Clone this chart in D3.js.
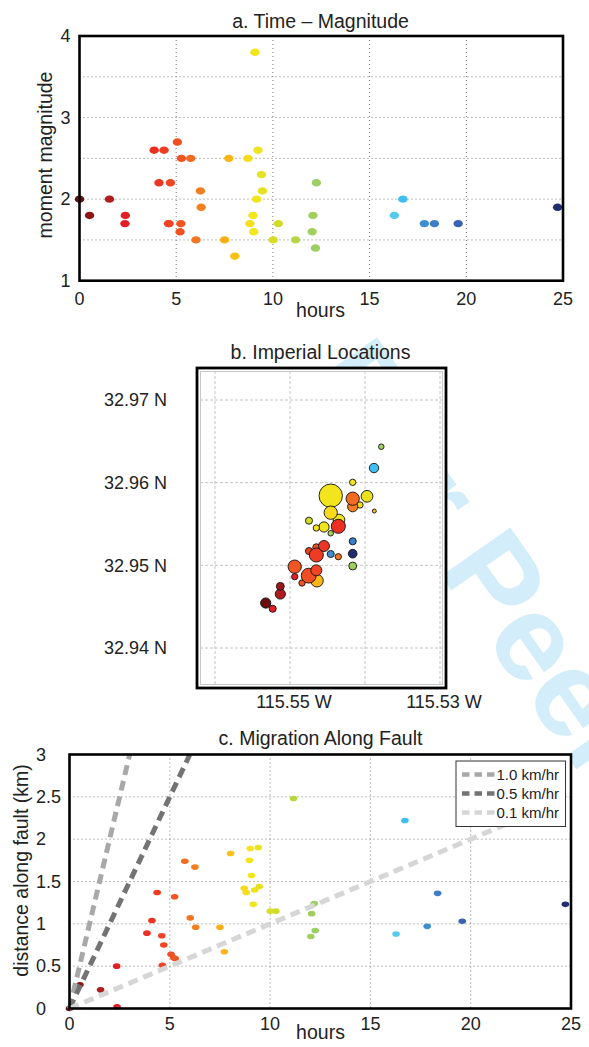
<!DOCTYPE html>
<html>
<head>
<meta charset="utf-8">
<script src="https://cdn.jsdelivr.net/npm/d3@7"></script>
<style>
  body { margin: 0; background: #fff; }
  svg { display: block; font-family: "Liberation Sans", Arial, Helvetica, sans-serif; }
</style>
</head>
<body>
<div id="chart"></div>
<script>
// events, one entry each (panels a and c)
var hours = [0, 0.52, 1.55, 2.35, 2.37, 3.86, 4.11, 4.37, 4.6, 4.63, 4.7, 5.06, 5.2, 5.24, 5.27,
  5.75, 6.02, 6.25, 6.29, 7.5, 7.72, 8.03, 8.71, 8.81, 8.97, 9.01, 9.07, 9.16, 9.23, 9.41, 9.46,
  10.01, 10.28, 11.17, 12.03, 12.07, 12.2, 12.25, 16.28, 16.72, 17.83, 18.35, 19.58, 24.72];
var magnitude = [2.0, 1.8, 2.0, 1.7, 1.8, 2.6, 2.2, 2.6, 1.7, 1.7, 2.2, 2.7, 1.6, 1.7, 2.5,
  2.5, 1.5, 2.1, 1.9, 1.5, 2.5, 1.3, 2.5, 1.7, 1.8, 1.6, 3.8, 2.0, 2.6, 2.3, 2.1,
  1.5, 1.7, 1.5, 1.6, 1.8, 1.4, 2.2, 1.8, 2.0, 1.7, 1.7, 1.7, 1.9];
var distance = [0.0, 0.28, 0.22, 0.5, 0.02, 0.89, 1.04, 1.37, 0.86, 0.51, 0.75, 0.64, 0.60, 1.32, 0.59,
  1.74, 1.07, 1.67, 0.96, 0.96, 0.67, 1.83, 1.42, 1.37, 1.75, 1.89, 1.57, 1.23, 1.40, 1.90, 1.44,
  1.15, 1.15, 2.48, 0.85, 1.12, 1.24, 0.92, 0.88, 2.22, 0.97, 1.36, 1.03, 1.23];

// located events (panel b)
var locLon = [-115.53783, -115.53880, -115.54164, -115.54457, -115.54164, -115.53973, -115.54164, -115.54067,
  -115.53876, -115.54457, -115.54347, -115.54356, -115.54747, -115.54649, -115.54547, -115.54457,
  -115.54164, -115.54164, -115.54164, -115.54457, -115.54356, -115.54547, -115.54747, -115.54649,
  -115.54649, -115.54937, -115.54937, -115.54751, -115.54649, -115.54640, -115.54840, -115.55129,
  -115.55129, -115.55324, -115.55231];
var locLat = [32.96435, 32.96177, 32.96004, 32.95842, 32.95806, 32.95835, 32.95709, 32.95730,
  32.95657, 32.95637, 32.95548, 32.95472, 32.95540, 32.95452, 32.95464, 32.95388,
  32.95291, 32.95141, 32.94992, 32.95137, 32.95104, 32.95234, 32.95173, 32.95218,
  32.95125, 32.94984, 32.94863, 32.94875, 32.94940, 32.94814, 32.94786, 32.94746,
  32.94653, 32.94544, 32.94475];
var locMag = [1.5, 2.0, 1.6, 3.8, 2.5, 2.3, 2.1, 1.6,
  1.3, 2.5, 2.3, 2.6, 1.7, 1.6, 2.1, 1.5,
  1.7, 1.9, 1.8, 1.7, 1.6, 2.2, 1.7, 1.7,
  2.6, 2.5, 1.6, 2.7, 2.2, 2.4, 1.6, 1.8,
  2.1, 2.1, 1.7];
var locHour = [12.2, 16.72, 9.0, 9.07, 5.76, 9.4, 6.24, 8.8,
  8.02, 8.7, 9.22, 3.84, 10.27, 9.01, 9.15, 12.03,
  18.35, 24.73, 12.07, 17.83, 6.0, 4.1, 4.6, 5.23,
  4.36, 5.27, 2.36, 5.06, 4.7, 7.71, 5.21, 1.0,
  1.53, 0, 2.34];

var hourTicks = [0, 5, 10, 15, 20, 25];
var magTicks = [1, 2, 3, 4];
var magGrid = [1.5, 2, 2.5, 3, 3.5];
var distTicks = [0, 0.5, 1, 1.5, 2, 2.5, 3];
var latTicks = [32.94, 32.95, 32.96, 32.97];
var lonGrid = [-115.56, -115.55, -115.54, -115.53];
var lonTicks = [-115.55, -115.53];

var rateValues = [1.0, 0.5, 0.1];
var rateLabels = ["1.0 km/hr", "0.5 km/hr", "0.1 km/hr"];
var rateColors = ["#a8a8a8", "#737373", "#d6d6d6"];

// time colouring, dark red (start) to navy (end)
var color = d3.scaleLinear()
    .domain([0, 0.5, 1.5, 2.3, 4, 5.2, 6.2, 7.7, 9, 10.3, 12.1, 16.3, 16.7, 18, 19.6, 24.7])
    .range(["#6b0d0f", "#8e1416", "#ae1c1e", "#e31e26", "#ec3223", "#f15223", "#f47d20", "#fbb617",
        "#f4e51c", "#cfdc28", "#9fcf5f", "#58c9ef", "#3ec0f1", "#3d86cc", "#3a62b2", "#222d6e"])
    .clamp(true);

var events = hours.map(function (h, i) {
    return { hour: h, mag: magnitude[i], dist: distance[i] };
});
var located = locLon.map(function (lon, i) {
    return { lon: lon, lat: locLat[i], mag: locMag[i], hour: locHour[i] };
});

var svg = d3.select("#chart").append("svg")
    .attr("width", 589)
    .attr("height", 1047);

// journal watermark, sits behind the axes
svg.append("text")
    .attr("transform", "translate(303,379) rotate(55)")
    .attr("font-size", 123)
    .attr("font-weight", "bold")
    .attr("fill", "#d4edfa")
    .text("For Peer Review");

function grid(g, x1, x2, y1, y2, stroke, dash) {
    g.append("line")
        .attr("x1", x1).attr("x2", x2).attr("y1", y1).attr("y2", y2)
        .attr("stroke", stroke)
        .attr("stroke-width", 1)
        .attr("stroke-dasharray", dash);
}

// ---------- a. Time - Magnitude ----------
(function () {
    var x = d3.scaleLinear().domain([0, 25]).range([79.5, 563]);
    var y = d3.scaleLinear().domain([1, 4]).range([280.7, 36]);
    var g = svg.append("g");

    g.append("rect")
        .attr("x", x(0)).attr("y", y(4))
        .attr("width", x(25) - x(0)).attr("height", y(1) - y(4))
        .attr("fill", "#fff");

    hourTicks.slice(1, -1).forEach(function (t) {
        grid(g, x(t), x(t), y(4), y(1), "#7a7a7a", "1,3");
    });
    magGrid.forEach(function (m) {
        grid(g, x(0), x(25), y(m), y(m), "#7a7a7a", "1,3");
    });

    g.selectAll("ellipse")
        .data(events)
        .enter().append("ellipse")
        .attr("cx", function (d) { return x(d.hour); })
        .attr("cy", function (d) { return y(d.mag); })
        .attr("rx", 4.7)
        .attr("ry", 3.7)
        .attr("fill", function (d) { return color(d.hour); });

    g.append("rect")
        .attr("x", x(0)).attr("y", y(4))
        .attr("width", x(25) - x(0)).attr("height", y(1) - y(4))
        .attr("fill", "none").attr("stroke", "#000").attr("stroke-width", 2.6);

    g.selectAll("text.xt")
        .data(hourTicks)
        .enter().append("text")
        .attr("class", "xt")
        .attr("x", function (d) { return x(d); })
        .attr("y", 299).attr("dy", "0.35em")
        .attr("text-anchor", "middle")
        .attr("font-size", 18).attr("fill", "#222")
        .text(function (d) { return d; });

    g.selectAll("text.yt")
        .data(magTicks)
        .enter().append("text")
        .attr("class", "yt")
        .attr("x", 70.5)
        .attr("y", function (d) { return y(d); }).attr("dy", "0.35em")
        .attr("text-anchor", "end")
        .attr("font-size", 18).attr("fill", "#222")
        .text(function (d) { return d; });

    g.append("text")
        .attr("x", 320.5).attr("y", 20.7).attr("dy", "0.35em")
        .attr("text-anchor", "middle").attr("font-size", 19.5).attr("fill", "#222")
        .text("a. Time \u2013 Magnitude");
    g.append("text")
        .attr("x", 320.5).attr("y", 310).attr("dy", "0.35em")
        .attr("text-anchor", "middle").attr("font-size", 19.5).attr("fill", "#222")
        .text("hours");
    g.append("text")
        .attr("transform", "translate(45,155) rotate(-90)")
        .attr("dy", "0.35em")
        .attr("text-anchor", "middle").attr("font-size", 19.5).attr("fill", "#222")
        .text("moment magnitude");
})();

// ---------- b. Imperial Locations ----------
(function () {
    var box = { left: 197, right: 446, top: 368, bottom: 688 };
    var x = d3.scaleLinear().domain([-115.55, -115.53]).range([290, 440]);
    var y = d3.scaleLinear().domain([32.94, 32.97]).range([648, 400]);
    var r = d3.scaleLinear().domain([1.3, 3.8]).range([2, 11.7]);
    var g = svg.append("g");

    g.append("rect")
        .attr("x", box.left).attr("y", box.top)
        .attr("width", box.right - box.left).attr("height", box.bottom - box.top)
        .attr("fill", "#fff");

    lonGrid.forEach(function (t) {
        grid(g, x(t), x(t), box.top + 3, box.bottom - 3, "#c4c4c4", "3,2");
    });
    latTicks.forEach(function (t) {
        grid(g, box.left + 3, box.right - 3, y(t), y(t), "#c4c4c4", "3,2");
    });

    g.append("rect")
        .attr("x", box.left + 3.5).attr("y", box.top + 3.5)
        .attr("width", box.right - box.left - 7).attr("height", box.bottom - box.top - 7)
        .attr("fill", "none").attr("stroke", "#c8c8c8").attr("stroke-width", 1);

    var sorted = located.slice().sort(function (a, b) { return b.hour - a.hour; });
    g.selectAll("circle")
        .data(sorted)
        .enter().append("circle")
        .attr("cx", function (d) { return x(d.lon); })
        .attr("cy", function (d) { return y(d.lat); })
        .attr("r", function (d) { return r(d.mag); })
        .attr("fill", function (d) { return color(d.hour); })
        .attr("stroke", "#111")
        .attr("stroke-width", 0.9);

    g.append("rect")
        .attr("x", box.left).attr("y", box.top)
        .attr("width", box.right - box.left).attr("height", box.bottom - box.top)
        .attr("fill", "none").attr("stroke", "#000").attr("stroke-width", 2.8);

    g.selectAll("text.yt")
        .data(latTicks)
        .enter().append("text")
        .attr("class", "yt")
        .attr("x", 167)
        .attr("y", function (d) { return y(d); }).attr("dy", "0.35em")
        .attr("text-anchor", "end")
        .attr("font-size", 18).attr("fill", "#222")
        .text(function (d) { return d.toFixed(2) + " N"; });

    g.selectAll("text.xt")
        .data(lonTicks)
        .enter().append("text")
        .attr("class", "xt")
        .attr("x", function (d) { return x(d); }).attr("dx", 4)
        .attr("y", 701.7).attr("dy", "0.35em")
        .attr("text-anchor", "middle")
        .attr("font-size", 18).attr("fill", "#222")
        .text(function (d) { return Math.abs(d).toFixed(2) + " W"; });

    g.append("text")
        .attr("x", 320.5).attr("y", 351.7).attr("dy", "0.35em")
        .attr("text-anchor", "middle").attr("font-size", 19.5).attr("fill", "#222")
        .text("b. Imperial Locations");
})();

// ---------- c. Migration Along Fault ----------
(function () {
    var x = d3.scaleLinear().domain([0, 25]).range([69.5, 571]);
    var y = d3.scaleLinear().domain([0, 3]).range([1008.5, 754.5]);
    var g = svg.append("g");

    g.append("rect")
        .attr("x", x(0)).attr("y", y(3))
        .attr("width", x(25) - x(0)).attr("height", y(0) - y(3))
        .attr("fill", "#fff");

    hourTicks.slice(1, -1).forEach(function (t) {
        grid(g, x(t), x(t), y(3), y(0), "#7a7a7a", "1,3");
    });
    distTicks.slice(1, -1).forEach(function (t) {
        grid(g, x(0), x(25), y(t), y(t), "#7a7a7a", "1,3");
    });

    g.selectAll("ellipse")
        .data(events)
        .enter().append("ellipse")
        .attr("cx", function (d) { return x(d.hour); })
        .attr("cy", function (d) { return y(d.dist); })
        .attr("rx", 3.8)
        .attr("ry", 2.8)
        .attr("fill", function (d) { return color(d.hour); });

    // constant migration speeds from the origin, stopped at the top of the axes
    var line = d3.line()
        .x(function (p) { return x(p[0]); })
        .y(function (p) { return y(p[1]); });
    g.selectAll("path.rate")
        .data(rateValues)
        .enter().append("path")
        .attr("class", "rate")
        .attr("d", function (v) {
            var tEnd = Math.min(25, 3 / v);
            return line([[0, 0], [tEnd, v * tEnd]]);
        })
        .attr("fill", "none")
        .attr("stroke", function (v, i) { return rateColors[i]; })
        .attr("stroke-width", 5)
        .attr("stroke-dasharray", "10,6");

    // legend
    var lg = g.append("g").attr("transform", "translate(456,761)");
    lg.append("rect")
        .attr("width", 109.5).attr("height", 65.5)
        .attr("fill", "#fff").attr("stroke", "#333").attr("stroke-width", 1);
    var item = lg.selectAll("g.item")
        .data(rateLabels)
        .enter().append("g")
        .attr("class", "item")
        .attr("transform", function (d, i) { return "translate(0," + (13.5 + i * 19) + ")"; });
    item.append("line")
        .attr("x1", 6).attr("x2", 39.5)
        .attr("stroke", function (d, i) { return rateColors[i]; })
        .attr("stroke-width", 4.5)
        .attr("stroke-dasharray", "7.5,5");
    item.append("text")
        .attr("x", 40.5).attr("dy", "0.35em")
        .attr("font-size", 15).attr("fill", "#222")
        .text(function (d) { return d; });

    g.append("rect")
        .attr("x", x(0)).attr("y", y(3))
        .attr("width", x(25) - x(0)).attr("height", y(0) - y(3))
        .attr("fill", "none").attr("stroke", "#000").attr("stroke-width", 2.6);

    g.selectAll("text.xt")
        .data(hourTicks)
        .enter().append("text")
        .attr("class", "xt")
        .attr("x", function (d) { return x(d); })
        .attr("y", 1024).attr("dy", "0.35em")
        .attr("text-anchor", "middle")
        .attr("font-size", 18).attr("fill", "#222")
        .text(function (d) { return d; });

    g.selectAll("text.yt")
        .data(distTicks)
        .enter().append("text")
        .attr("class", "yt")
        .attr("x", 36)
        .attr("y", function (d) { return y(d); }).attr("dy", "0.35em")
        .attr("text-anchor", "start")
        .attr("font-size", 18).attr("fill", "#222")
        .text(function (d) { return d; });

    g.append("text")
        .attr("x", 320.5).attr("y", 738).attr("dy", "0.35em")
        .attr("text-anchor", "middle").attr("font-size", 19.5).attr("fill", "#222")
        .text("c. Migration Along Fault");
    g.append("text")
        .attr("x", 320.5).attr("y", 1031.7).attr("dy", "0.35em")
        .attr("text-anchor", "middle").attr("font-size", 19.5).attr("fill", "#222")
        .text("hours");
    g.append("text")
        .attr("transform", "translate(20.7,870.5) rotate(-90)")
        .attr("dy", "0.35em")
        .attr("text-anchor", "middle").attr("font-size", 19.5).attr("fill", "#222")
        .text("distance along fault (km)");
})();
</script>
</body>
</html>
